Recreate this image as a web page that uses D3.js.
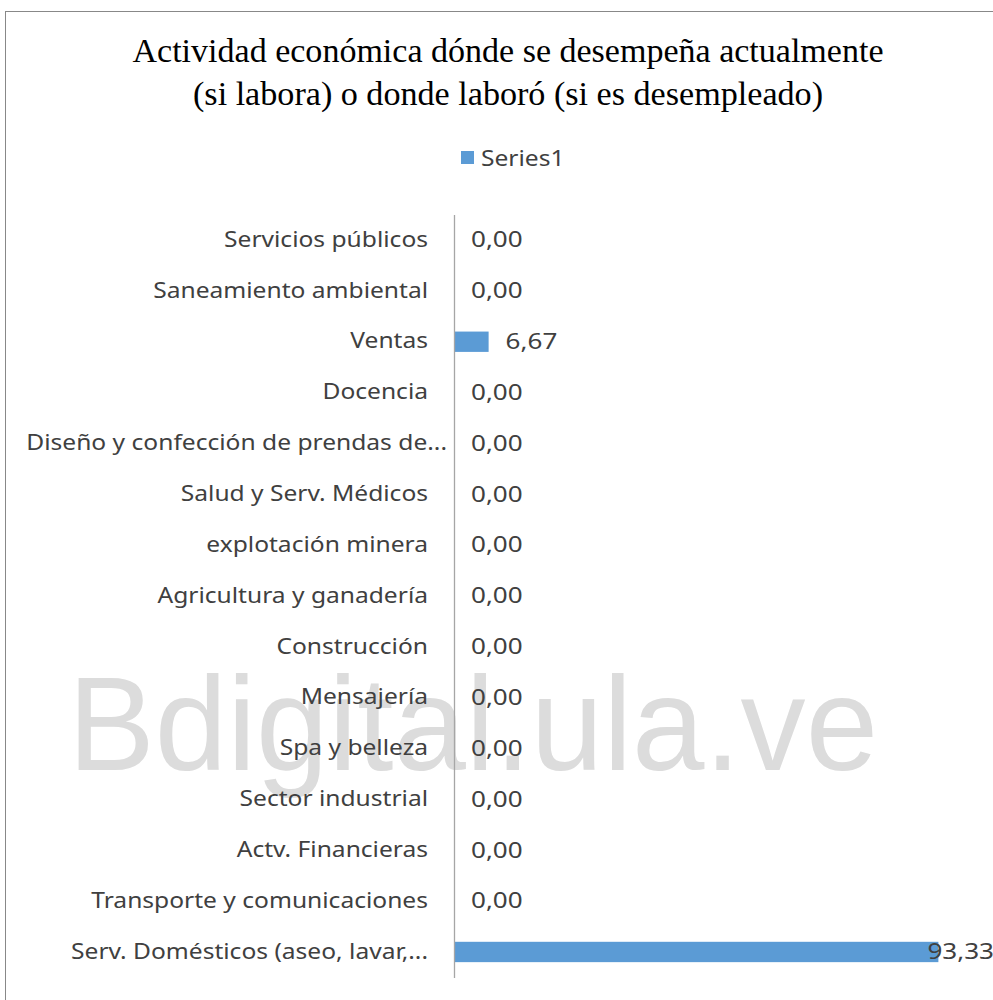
<!DOCTYPE html>
<html>
<head>
<meta charset="utf-8">
<script src="https://cdn.jsdelivr.net/npm/d3@7"></script>
<style>
  body { margin: 0; background: #fff; }
  svg { display: block; }
</style>
</head>
<body>
<svg width="993" height="1000"></svg>
<script>
const CATEGORIES = [
    'Servicios públicos',
    'Saneamiento ambiental',
    'Ventas',
    'Docencia',
    'Diseño y confección de prendas de...',
    'Salud y Serv. Médicos',
    'explotación minera',
    'Agricultura y ganadería',
    'Construcción',
    'Mensajería',
    'Spa y belleza',
    'Sector industrial',
    'Actv. Financieras',
    'Transporte y comunicaciones',
    'Serv. Domésticos (aseo, lavar,...'
];
const VALUES = [0, 0, 6.67, 0, 0, 0, 0, 0, 0, 0, 0, 0, 0, 0, 93.33];
const TITLE_LINES = [
    'Actividad económica dónde se desempeña actualmente',
    '(si labora) o donde laboró (si es desempleado)'
];
const SERIES_NAME = 'Series1';

const fmt = v => v.toFixed(2).replace('.', ',');

// Calibri-like text: Noto Sans, stretched wider
const STRETCH = 1.17;
function widen(sel) {
    sel.each(function () {
        const w = this.getComputedTextLength();
        d3.select(this)
            .attr('textLength', w * STRETCH)
            .attr('lengthAdjust', 'spacingAndGlyphs');
    });
}

const svg = d3.select('svg');

// chart frame
svg.append('rect')
    .attr('x', 5.5).attr('y', 11.5)
    .attr('width', 1000).attr('height', 1000)
    .attr('fill', '#fff')
    .attr('stroke', '#888');

// watermark
svg.append('text')
    .attr('x', 68).attr('y', 770)
    .attr('font-family', 'Liberation Sans, Arial, sans-serif')
    .attr('font-size', 133)
    .attr('fill', '#dcdcdc')
    .attr('textLength', 810)
    .attr('lengthAdjust', 'spacingAndGlyphs')
    .text('Bdigital.ula.ve');

// title
svg.selectAll('.title')
    .data(TITLE_LINES)
    .enter()
    .append('text')
    .classed('title', true)
    .attr('x', 508)
    .attr('y', (d, i) => 62 + i * 43)
    .attr('text-anchor', 'middle')
    .attr('font-family', 'Liberation Serif, Times New Roman, serif')
    .attr('font-size', 33)
    .attr('fill', '#000')
    .attr('textLength', (d, i) => i === 0 ? 751 : 630)
    .attr('lengthAdjust', 'spacingAndGlyphs')
    .text(d => d);

// legend
svg.append('rect')
    .attr('x', 461).attr('y', 151)
    .attr('width', 13).attr('height', 13)
    .attr('fill', '#5b9bd5');
svg.append('text')
    .attr('x', 481).attr('y', 166)
    .attr('font-family', 'Noto Sans, sans-serif')
    .attr('font-size', 21)
    .attr('fill', '#404040')
    .text(SERIES_NAME)
    .call(widen);

const x = d3.scaleLinear()
    .domain([0, 100])
    .range([454, 973]);

const y = d3.scaleBand()
    .domain(CATEGORIES)
    .range([214.6, 977.4])
    .paddingInner(0.6)
    .paddingOuter(0.3);

// bars
svg.selectAll('.bar')
    .data(VALUES)
    .enter()
    .append('rect')
    .classed('bar', true)
    .attr('x', x(0))
    .attr('y', (d, i) => y(CATEGORIES[i]))
    .attr('width', d => x(d) - x(0))
    .attr('height', y.bandwidth())
    .attr('fill', '#5b9bd5');

// category axis
const axis = svg.append('g')
    .attr('transform', `translate(${x(0)},0)`)
    .call(d3.axisLeft(y).tickSize(0).tickPadding(26));
axis.select('.domain').attr('stroke', '#a6a6a6').attr('stroke-width', 1.3);
axis.selectAll('text')
    .attr('font-family', 'Noto Sans, sans-serif')
    .attr('font-size', 21)
    .attr('fill', '#404040')
    .attr('dx', d => d.startsWith('Diseño') ? 19 : 0)
    .call(widen);

// value labels
const labels = svg.selectAll('.lbl')
    .data(VALUES)
    .enter()
    .append('text')
    .classed('lbl', true)
    .attr('y', (d, i) => y(CATEGORIES[i]) + y.bandwidth() / 2)
    .attr('dy', '0.35em')
    .attr('font-family', 'Noto Sans, sans-serif')
    .attr('font-size', 21)
    .attr('fill', '#404040')
    .text(d => fmt(d));
labels.each(function (d) {
    const w = this.getComputedTextLength() * 1.24;
    d3.select(this)
        .attr('textLength', w)
        .attr('lengthAdjust', 'spacingAndGlyphs')
        .attr('x', Math.min(x(d) + 17, 993 - w + 1));
});
</script>
</body>
</html>
